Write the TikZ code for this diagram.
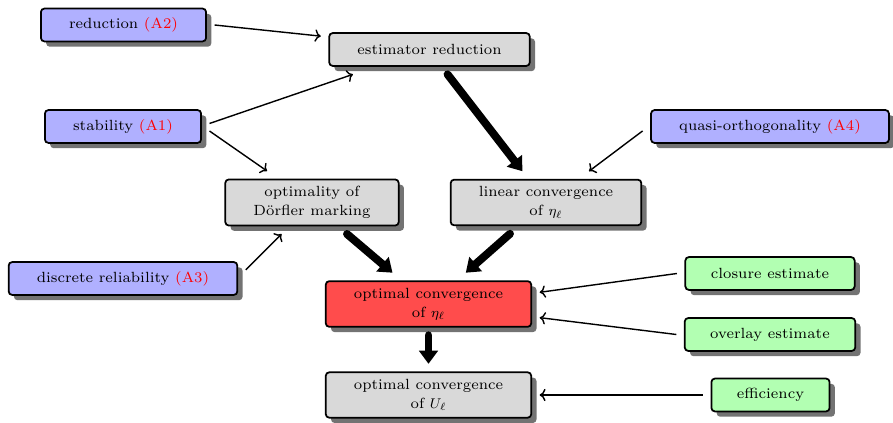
\documentclass[tikz,border=0pt]{standalone}
\usepackage{fontspec}
\usepackage{tikz}
\usetikzlibrary{shadows,arrows.meta}

\newfontfamily\boxfont{lmroman7-regular.otf}
\tikzset{
  block/.style={draw=black, line width=1pt, rounded corners=2pt, align=center,
    font=\fontsize{8.4}{10.6}\selectfont\boxfont, inner xsep=16pt, inner ysep=4pt,
    minimum height=18.7pt, outer sep=4.8pt,
    drop shadow={shadow xshift=3pt, shadow yshift=-3pt, fill=black!55, opacity=1}},
  assum/.style={block, fill=blue!31},
  lemma/.style={block, fill=black!15},
  goal/.style={block, fill=red!70},
  tool/.style={block, fill=green!30, inner xsep=14.5pt},
  thinarrow/.style={thick, ->},
  bigarrow/.style={line width=4.5pt, line cap=round, -{Triangle[length=7.5pt,width=10.5pt]}}
}
\newcommand{\ass}[1]{\textcolor{red}{(#1)}}

\begin{document}
\begin{tikzpicture}
    \useasboundingbox (0,0) rectangle (17.86,8.46);

    % assumptions
    \node [assum] (reduction) at (2.47,7.96) {reduction \ass{A2}};
    \node [assum] (stability) at (2.46,5.93) {stability \ass{A1}};
    \node [assum] (discrel) at (2.46,2.89) {discrete reliability \ass{A3}};
    \node [assum] (quasi) at (15.40,5.93) {quasi-orthogonality \ass{A4}};

    % intermediate results
    \node [lemma] (estred) at (8.59,7.47) {estimator reduction};
    \node [lemma] (doerfler) at (6.24,4.41) {optimality of\\D\"orfler marking};
    \node [lemma] (linconv) at (10.92,4.41) {linear convergence\\of $\eta_\ell$};
    \node [goal] (optconv) at (8.57,2.38) {optimal convergence\\of $\eta_\ell$};
    \node [lemma] (optU) at (8.57,0.56) {optimal convergence\\of $U_\ell$};

    % tools
    \node [tool] (closure) at (15.40,2.99) {closure estimate};
    \node [tool] (overlay) at (15.40,1.77) {overlay estimate};
    \node [tool] (efficiency) at (15.41,0.56) {efficiency};

    \draw [thinarrow] (reduction.east) -- (estred.173);
    \draw [thinarrow] (stability.2) -- (estred.198);
    \draw [thinarrow] (stability.-3) -- (doerfler.145);
    \draw [thinarrow] (discrel.4) -- (doerfler.226);
    \draw [thinarrow] (quasi.182) -- (linconv.36);
    \draw [thinarrow] (closure.west) -- (optconv.6);
    \draw [thinarrow] (overlay.west) -- (optconv.-7);
    \draw [thinarrow] (efficiency.west) -- (optU.east);

    \draw [bigarrow] (estred.-54) -- (linconv.127);
    \draw [bigarrow] (doerfler.-42) -- (optconv.139);
    \draw [bigarrow] (linconv.221) -- (optconv.40);
    \draw [bigarrow] (optconv.south) -- (optU.north);

\end{tikzpicture}
\end{document}
